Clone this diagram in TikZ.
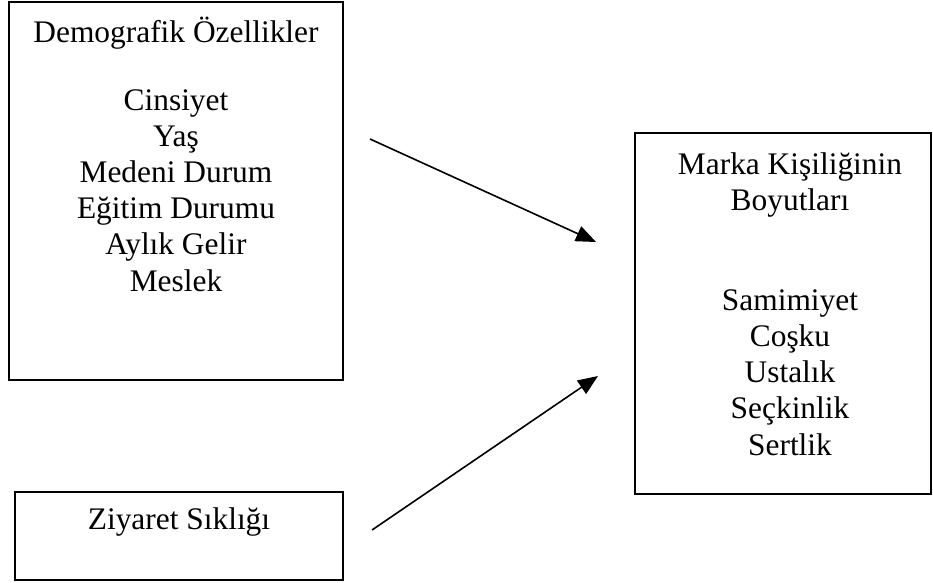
\documentclass[tikz,border=0pt]{standalone}
\usepackage{fontspec}
\setmainfont{Liberation Serif}
\usetikzlibrary{arrows.meta}

\tikzset{
  box/.style={draw=black, line width=1.6pt, inner sep=0pt},
  lbl/.style={anchor=base, inner sep=0pt, font=\fontsize{31.4}{36}\selectfont},
  link/.style={line width=1.6pt, -{Triangle[length=20pt, width=16pt]}}
}

\begin{document}
\begin{tikzpicture}[x=1pt, y=-1pt]
  \useasboundingbox (0,0) rectangle (933,582);

  % boxes
  \node[box, minimum width=334pt, minimum height=378pt] (demo) at (176,191) {};
  \node[box, minimum width=328pt, minimum height=88pt] (visit) at (179,536) {};
  \node[box, minimum width=296pt, minimum height=361pt] (brand) at (783,313.5) {};

  % demographic characteristics
  \node[lbl] (dtitle) at (176,42) {Demografik Özellikler};
  \foreach \t [count=\i] in {Cinsiyet, Yaş, Medeni Durum, Eğitim Durumu, Aylık Gelir, Meslek}
    \node[lbl] (d\i) at (176,{110+(\i-1)*36.2}) {\t};

  % visit frequency
  \node[lbl] (vtitle) at (179,529) {Ziyaret Sıklığı};

  % brand personality dimensions
  \node[lbl] (btitle1) at (790,174) {Marka Kişiliğinin};
  \node[lbl] (btitle2) at (790,210.2) {Boyutları};
  \foreach \t [count=\i] in {Samimiyet, Coşku, Ustalık, Seçkinlik, Sertlik}
    \node[lbl] (b\i) at (790,{310.2+(\i-1)*36.2}) {\t};

  % connectors
  \coordinate (a1s) at (370,139);
  \coordinate (a1e) at (596,242);
  \coordinate (a2s) at (372,530);
  \coordinate (a2e) at (598,376);
  \draw[link] (a1s) -- (a1e);
  \draw[link] (a2s) -- (a2e);
\end{tikzpicture}
\end{document}
